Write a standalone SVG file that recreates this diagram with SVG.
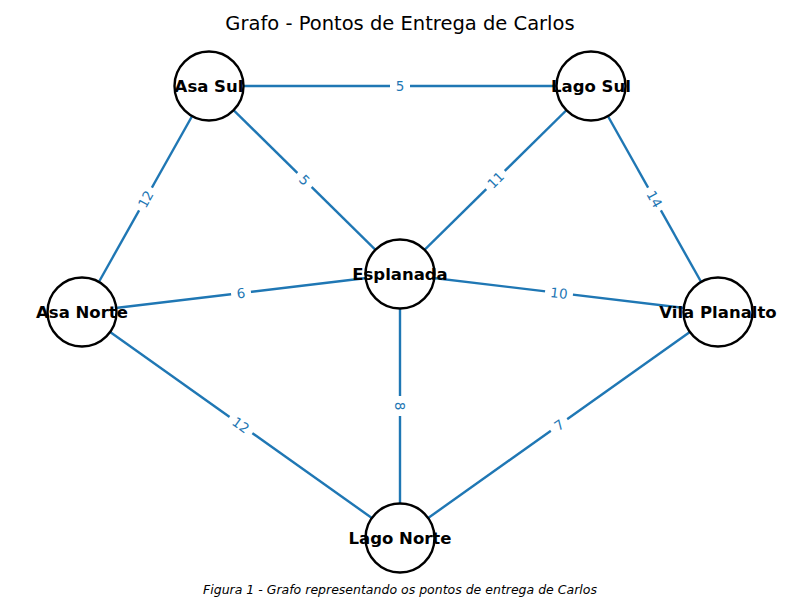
<svg xmlns="http://www.w3.org/2000/svg" width="800" height="600" viewBox="0 0 800 600">
<style>
.e{stroke:#1f77b4;stroke-width:2.4;fill:none}
.n circle{fill:#fff;stroke:#000;stroke-width:2.4}
.n text{font-family:"DejaVu Sans",sans-serif;font-weight:bold;font-size:16.5px;text-anchor:middle;fill:#000}
.l rect{fill:#fff}
.l text{font-family:"DejaVu Sans",sans-serif;font-size:13.5px;fill:#1f77b4;text-anchor:middle}
</style>
<rect width="800" height="600" fill="#fff"/>
<text x="400" y="30" font-family="DejaVu Sans, sans-serif" font-size="19.5px" text-anchor="middle">Grafo - Pontos de Entrega de Carlos</text>
<g id="connectors">
<line class="e" x1="209" y1="86" x2="591" y2="86"/>
<line class="e" x1="209" y1="86" x2="82" y2="312"/>
<line class="e" x1="209" y1="86" x2="400" y2="274"/>
<line class="e" x1="591" y1="86" x2="400" y2="274"/>
<line class="e" x1="591" y1="86" x2="718" y2="312"/>
<line class="e" x1="82" y1="312" x2="400" y2="274"/>
<line class="e" x1="400" y1="274" x2="718" y2="312"/>
<line class="e" x1="400" y1="274" x2="400" y2="538"/>
<line class="e" x1="82" y1="312" x2="400" y2="538"/>
<line class="e" x1="400" y1="538" x2="718" y2="312"/>
<g class="l">
<g transform="translate(400,86)"><rect x="-10" y="-9" width="20" height="18"/><text y="5">5</text></g>
<g transform="translate(145.5,199) rotate(-60.7)"><rect x="-13" y="-9" width="26" height="18"/><text y="5">12</text></g>
<g transform="translate(304.5,180) rotate(44.5)"><rect x="-10" y="-9" width="20" height="18"/><text y="5">5</text></g>
<g transform="translate(495.5,180) rotate(-44.5)"><rect x="-13" y="-9" width="26" height="18"/><text y="5">11</text></g>
<g transform="translate(654.5,199) rotate(60.7)"><rect x="-13" y="-9" width="26" height="18"/><text y="5">14</text></g>
<g transform="translate(241,293) rotate(-6.8)"><rect x="-10" y="-9" width="20" height="18"/><text y="5">6</text></g>
<g transform="translate(559,293) rotate(6.8)"><rect x="-14" y="-9" width="28" height="18"/><text y="5">10</text></g>
<g transform="translate(400,406) rotate(90)"><rect x="-10" y="-9" width="20" height="18"/><text y="5">8</text></g>
<g transform="translate(241,425) rotate(35.4)"><rect x="-14" y="-9" width="28" height="18"/><text y="5">12</text></g>
<g transform="translate(559,425) rotate(-35.4)"><rect x="-10" y="-9" width="20" height="18"/><text y="5">7</text></g>
</g>
</g>
<g id="node-asa-sul" class="n"><circle cx="209" cy="86" r="34.5"/><text x="209" y="92">Asa Sul</text></g>
<g id="node-lago-sul" class="n"><circle cx="591" cy="86" r="34.5"/><text x="591" y="92">Lago Sul</text></g>
<g id="node-asa-norte" class="n"><circle cx="82" cy="312" r="34.5"/><text x="82" y="318">Asa Norte</text></g>
<g id="node-esplanada" class="n"><circle cx="400" cy="274" r="34.5"/><text x="400" y="280">Esplanada</text></g>
<g id="node-vila-planalto" class="n"><circle cx="718" cy="312" r="34.5"/><text x="718" y="318">Vila Planalto</text></g>
<g id="node-lago-norte" class="n"><circle cx="400" cy="538" r="34.5"/><text x="400" y="544">Lago Norte</text></g>
<text x="400" y="594" font-family="DejaVu Sans, sans-serif" font-style="italic" font-size="12.5px" text-anchor="middle">Figura 1 - Grafo representando os pontos de entrega de Carlos</text>
</svg>
